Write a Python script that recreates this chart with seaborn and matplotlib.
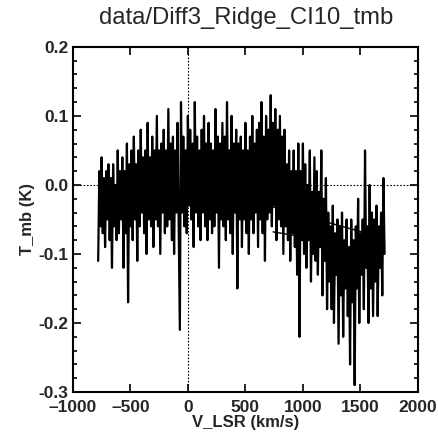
import numpy as np
import pandas as pd
import seaborn as sns
import matplotlib.pyplot as plt
from matplotlib.ticker import MultipleLocator, FixedLocator, FixedFormatter

# spectrum (10 km/s channels from -780 to 1710)
v_start = -780
v_step = 10
t_mb = [
    -0.11, 0.02, -0.06, 0.04, -0.07, 0.01, -0.09, 0.02, -0.05, 0.03,
    -0.08, 0.01, -0.12, 0.03, -0.06, 0.00, -0.08, 0.05, -0.07, 0.02,
    -0.05, 0.04, -0.12, 0.02, -0.07, 0.06, -0.17, 0.03, -0.06, 0.05,
    -0.08, 0.07, -0.05, 0.03, -0.11, 0.05, -0.06, 0.08, -0.04, 0.04,
    -0.07, 0.05, -0.10, 0.09, -0.05, 0.04, -0.06, 0.07, -0.09, 0.05,
    -0.05, 0.10, -0.06, 0.05, -0.10, 0.06, -0.04, 0.08, -0.07, 0.05,
    -0.06, 0.11, -0.05, 0.06, -0.08, 0.07, -0.10, 0.05, -0.04, 0.09,
    -0.06, -0.21, 0.12, -0.04, 0.07, -0.06, 0.05, -0.07, 0.10, -0.03,
    0.08, -0.05, 0.06, -0.09, 0.12, -0.04, 0.07, -0.06, 0.05, -0.08,
    0.08, -0.04, 0.10, -0.06, 0.06, -0.08, 0.09, -0.05, 0.06, -0.07,
    0.05, -0.06, 0.11, -0.04, 0.07, -0.12, 0.06, -0.05, 0.09, -0.06,
    0.07, -0.08, 0.12, -0.05, 0.05, -0.07, 0.10, -0.10, 0.06, -0.04,
    0.08, -0.15, 0.06, -0.05, 0.07, -0.09, 0.05, -0.05, 0.09, -0.07,
    0.05, -0.10, 0.07, -0.05, 0.10, -0.07, 0.06, -0.04, 0.08, -0.09,
    0.09, -0.05, 0.12, -0.07, 0.07, -0.11, 0.10, -0.05, 0.08, -0.04,
    0.13, -0.06, 0.09, -0.03, 0.11, -0.08, 0.08, -0.05, 0.10, -0.06,
    0.07, -0.10, 0.08, -0.06, 0.03, -0.08, 0.05, -0.11, 0.02, -0.07,
    0.05, -0.09, 0.02, -0.13, 0.06, -0.22, 0.02, -0.08, 0.06, -0.10,
    0.03, -0.12, 0.00, -0.08, 0.05, -0.14, -0.01, -0.10, 0.04, -0.11,
    0.02, -0.13, -0.01, -0.09, 0.05, -0.16, -0.02, -0.11, 0.01, -0.18,
    -0.04, -0.14, -0.06, -0.18, -0.03, -0.20, -0.07, -0.13, -0.05, -0.23,
    -0.06, -0.16, -0.04, -0.22, -0.08, -0.15, -0.05, -0.19, -0.09, -0.26,
    -0.05, -0.17, -0.08, -0.29, -0.06, -0.15, -0.02, -0.20, -0.07, -0.13,
    -0.05, -0.18, 0.05, -0.12, -0.06, -0.20, 0.00, -0.15, -0.04, -0.19,
    -0.05, -0.14, -0.03, -0.19, -0.06, -0.12, -0.04, -0.16, 0.01, -0.10,
]
v_lsr = [v_start + v_step * i for i in range(len(t_mb))]

# the two straight baseline segments crossing the band
fit1_v = [740, 1510]
fit1_t = [-0.032, -0.068]
fit2_v = [740, 1320]
fit2_t = [-0.068, -0.084]

xtick_vals = [-1000, -500, 0, 500, 1000, 1500, 2000]
xtick_labels = ['\u20131000', '\u2013500', '0', '500', '1000', '1500', '2000']
ytick_vals = [-0.3, -0.2, -0.1, 0.0, 0.1, 0.2]
ytick_labels = ['-0.3', '-0.2', '-0.1', '0.0', '0.1', '0.2']

sns.set_style("ticks")
plt.rcParams['font.family'] = ['Liberation Sans', 'DejaVu Sans']

df = pd.DataFrame({"v": v_lsr, "t": t_mb})

fig = plt.figure(figsize=(4.39, 4.42), dpi=100)
ax = fig.add_axes([0.166, 0.113, 0.786, 0.781])

ax.axvline(0, color="black", ls=(0, (1.5, 1.5)), lw=0.8, zorder=1)
ax.axhline(0, color="black", ls=(0, (1.5, 1.5)), lw=0.8, zorder=1)

sns.lineplot(data=df, x="v", y="t", estimator=None, sort=False, color="black", lw=1.6, ax=ax, zorder=3)
sns.lineplot(x=fit1_v, y=fit1_t, estimator=None, color="black", lw=1.0, ax=ax, zorder=3)
sns.lineplot(x=fit2_v, y=fit2_t, estimator=None, color="black", lw=1.0, ax=ax, zorder=3)

ax.set_xlim(-1000, 2000)
ax.set_ylim(-0.3, 0.2)
ax.xaxis.set_major_locator(FixedLocator(xtick_vals))
ax.xaxis.set_major_formatter(FixedFormatter(xtick_labels))
ax.yaxis.set_major_locator(FixedLocator(ytick_vals))
ax.yaxis.set_major_formatter(FixedFormatter(ytick_labels))
ax.yaxis.set_minor_locator(MultipleLocator(0.02))

ax.tick_params(which="both", direction="in", top=True, right=True, color="black", width=1.2)
ax.tick_params(which="major", length=6, labelsize=12.5)
ax.tick_params(axis="x", which="major", pad=6)
ax.tick_params(axis="y", which="major", pad=3)
ax.tick_params(which="minor", length=3)
for lab in ax.get_xticklabels() + ax.get_yticklabels():
    lab.set_fontweight("bold")
for s in ax.spines.values():
    s.set_linewidth(1.5)
    s.set_color("black")

ax.set_xlabel("V_LSR (km/s)", fontsize=12, fontweight="bold", labelpad=0)
ax.set_ylabel("T_mb (K)", fontsize=12, fontweight="bold", labelpad=3)
fig.suptitle("data/Diff3_Ridge_CI10_tmb", fontsize=17.2, x=0.56, y=0.985)

fig.savefig("out.png", dpi=100)
